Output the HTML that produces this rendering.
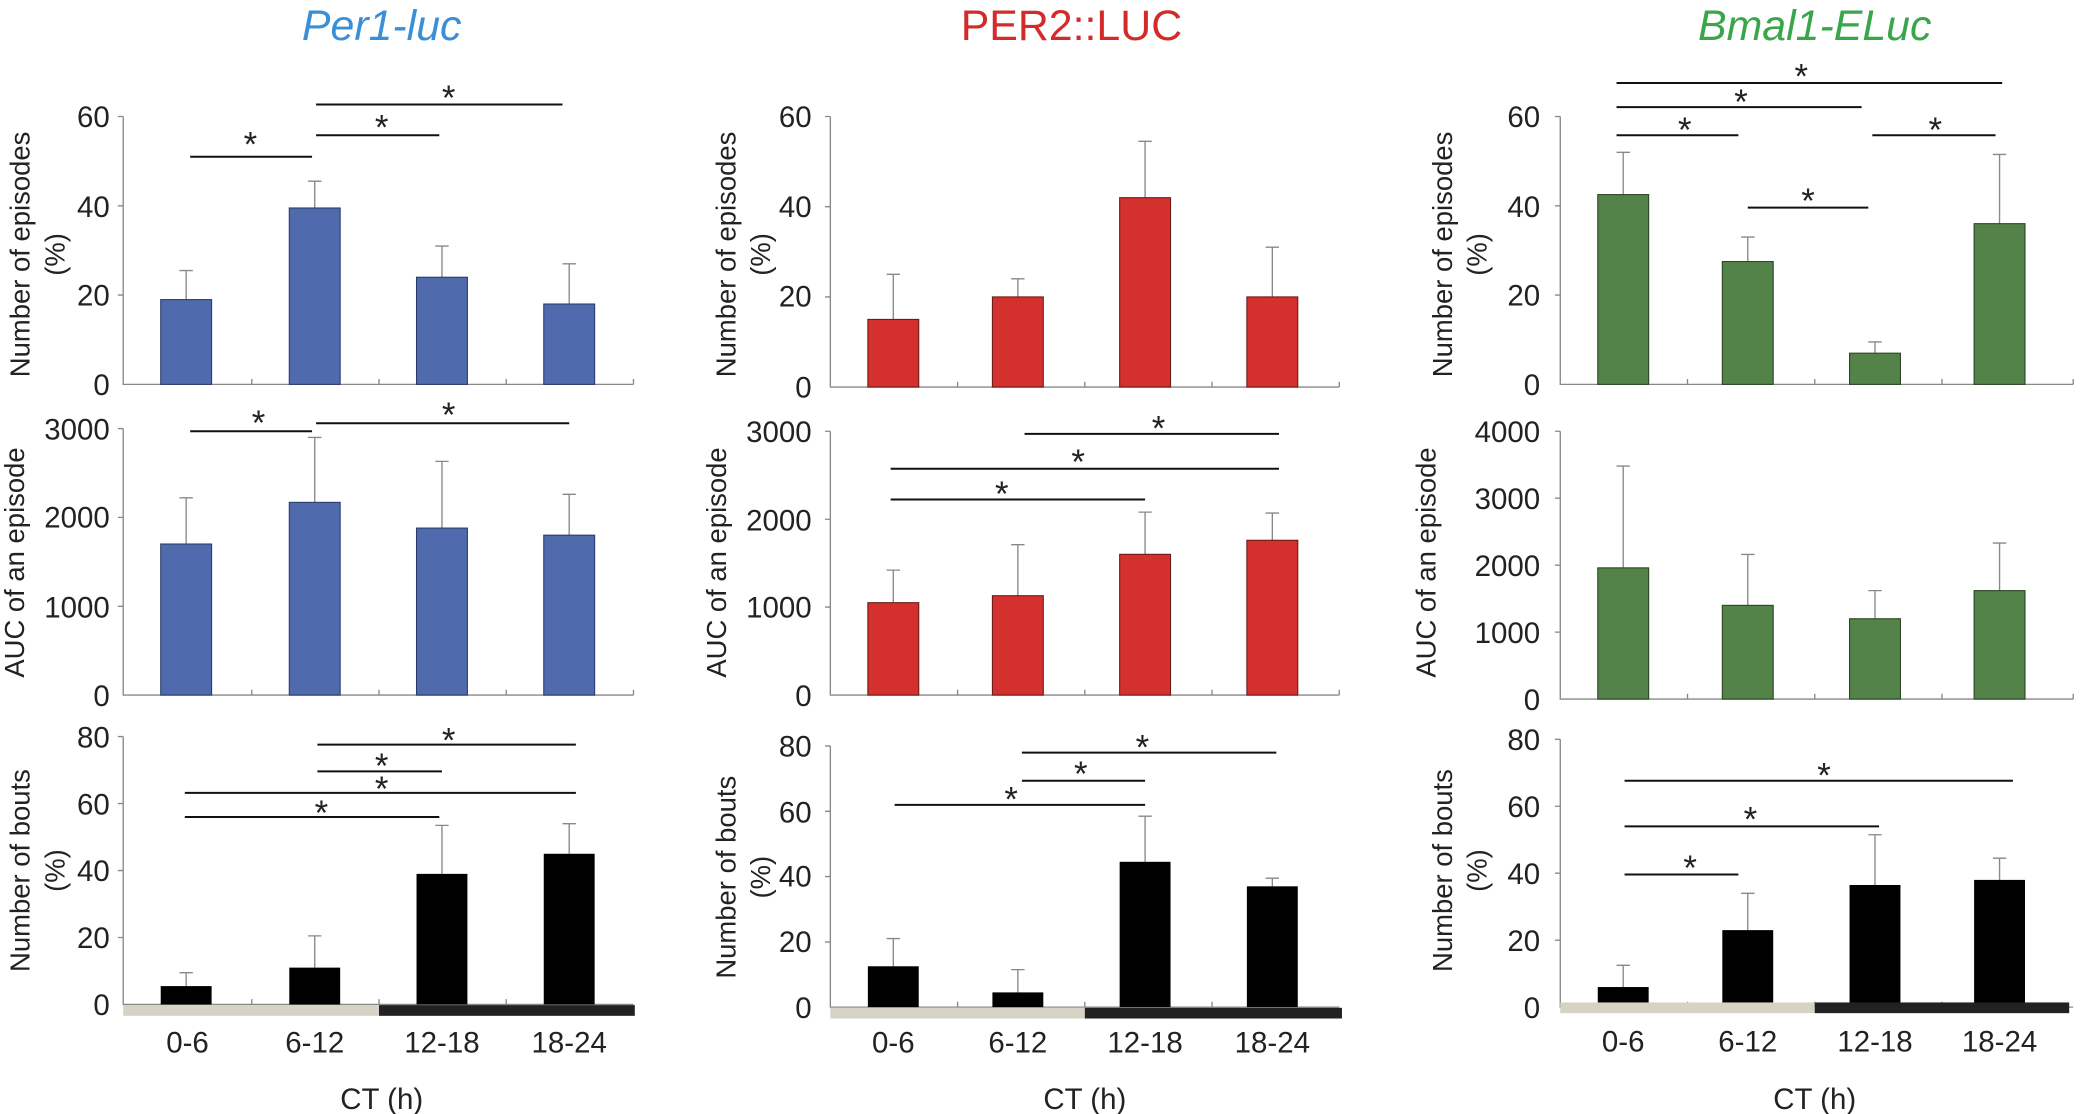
<!DOCTYPE html>
<html><head><meta charset="utf-8"><style>
html,body{margin:0;padding:0;background:#fff}
svg{display:block}
text{font-family:"Liberation Sans",sans-serif;fill:#222}
.t{font-size:22px}
.yl{font-size:20.5px}
.s{font-size:26px}
</style></head><body>
<svg width="2100" height="1114" viewBox="0 0 1568 831.8" preserveAspectRatio="none" xmlns="http://www.w3.org/2000/svg">
<g stroke="#888" stroke-width="1" fill="none">
<path d="M92,87V287H473M188,287v-4M283,287v-4M378,287v-4M473,287v-4M88,87h4M88,153.7h4M88,220.3h4"/>
<path d="M92,320V519H473M188,519v-4M283,519v-4M378,519v-4M473,519v-4M88,320h4M88,386.3h4M88,452.7h4"/>
<path d="M92,550V750H473M188,750v-4M283,750v-4M378,750v-4M88,550h4M88,600h4M88,650h4M88,700h4"/>
<path d="M620,87V289H1000M715,289v-4M810,289v-4M905,289v-4M1000,289v-4M616,87h4M616,154.3h4M616,221.7h4"/>
<path d="M620,322V519H1000M715,519v-4M810,519v-4M905,519v-4M1000,519v-4M616,322h4M616,387.7h4M616,453.3h4"/>
<path d="M620,557V752H1000M715,752v-4M810,752v-4M905,752v-4M616,557h4M616,605.8h4M616,654.5h4M616,703.3h4"/>
<path d="M1165,87V287H1548M1260,287v-4M1355,287v-4M1450,287v-4M1548,287v-4M1161,87h4M1161,153.7h4M1161,220.3h4"/>
<path d="M1165,322V522H1548M1260,522v-4M1355,522v-4M1450,522v-4M1548,522v-4M1161,322h4M1161,372h4M1161,422h4M1161,472h4"/>
<path d="M1165,552V752H1548M1260,752v-4M1355,752v-4M1450,752v-4M1161,552h4M1161,602h4M1161,652h4M1161,702h4"/>
<path d="M139,223.7V202m-5,0h10M235,155.3V135.3m-5,0h10M330,207V183.7m-5,0h10M425,227V197m-5,0h10"/>
<path d="M139,406.2V371.7m-5,0h10M235,375.1V326.6m-5,0h10M330,394.3V344.5m-5,0h10M425,399.6V369.1m-5,0h10"/>
<path d="M139,736.3V726.3m-5,0h10M235,722.5V698.8m-5,0h10M330,652.5V616.3m-5,0h10M425,637.5V615m-5,0h10"/>
<path d="M667,238.5V204.8m-5,0h10M760,221.7V208.2m-5,0h10M855,147.6V105.5m-5,0h10M950,221.7V184.6m-5,0h10"/>
<path d="M667,450V425.7m-5,0h10M760,444.8V406.7m-5,0h10M855,413.9V382.4m-5,0h10M950,403.4V383.1m-5,0h10"/>
<path d="M667,721.5V700.8m-5,0h10M760,741V724m-5,0h10M855,643.5V609.4m-5,0h10M950,661.8V655.7m-5,0h10"/>
<path d="M1212,145.3V113.7m-5,0h10M1305,195.3V177m-5,0h10M1400,263.7V255.3m-5,0h10M1493,167V115.3m-5,0h10"/>
<path d="M1212,424V348m-5,0h10M1305,452V414m-5,0h10M1400,462V441m-5,0h10M1493,441V405.5m-5,0h10"/>
<path d="M1212,737V720.8m-5,0h10M1305,694.5V667m-5,0h10M1400,660.8V623.3m-5,0h10M1493,657V640.8m-5,0h10"/>
</g>
<g fill="#4f6aad" stroke="#2a3b6a" stroke-width="0.8">
<rect x="120" y="223.7" width="38" height="63.3"/><rect x="216" y="155.3" width="38" height="131.7"/><rect x="311" y="207" width="38" height="80"/><rect x="406" y="227" width="38" height="60"/>
<rect x="120" y="406.2" width="38" height="112.8"/><rect x="216" y="375.1" width="38" height="143.9"/><rect x="311" y="394.3" width="38" height="124.7"/><rect x="406" y="399.6" width="38" height="119.4"/>
</g>
<g fill="#d3302e" stroke="#6a1a18" stroke-width="0.8">
<rect x="648" y="238.5" width="38" height="50.5"/><rect x="741" y="221.7" width="38" height="67.3"/><rect x="836" y="147.6" width="38" height="141.4"/><rect x="931" y="221.7" width="38" height="67.3"/>
<rect x="648" y="450" width="38" height="69"/><rect x="741" y="444.8" width="38" height="74.2"/><rect x="836" y="413.9" width="38" height="105.1"/><rect x="931" y="403.4" width="38" height="115.6"/>
</g>
<g fill="#538348" stroke="#2a4424" stroke-width="0.8">
<rect x="1193" y="145.3" width="38" height="141.7"/><rect x="1286" y="195.3" width="38" height="91.7"/><rect x="1381" y="263.7" width="38" height="23.3"/><rect x="1474" y="167" width="38" height="120"/>
<rect x="1193" y="424" width="38" height="98"/><rect x="1286" y="452" width="38" height="70"/><rect x="1381" y="462" width="38" height="60"/><rect x="1474" y="441" width="38" height="81"/>
</g>
<g fill="#000">
<rect x="120" y="736.3" width="38" height="13.7"/><rect x="216" y="722.5" width="38" height="27.5"/><rect x="311" y="652.5" width="38" height="97.5"/><rect x="406" y="637.5" width="38" height="112.5"/>
<rect x="648" y="721.5" width="38" height="30.5"/><rect x="741" y="741" width="38" height="11"/><rect x="836" y="643.5" width="38" height="108.5"/><rect x="931" y="661.8" width="38" height="90.2"/>
<rect x="1193" y="737" width="38" height="15"/><rect x="1286" y="694.5" width="38" height="57.5"/><rect x="1381" y="660.8" width="38" height="91.2"/><rect x="1474" y="657" width="38" height="95"/>
</g>
<rect x="92" y="750.5" width="191" height="8" fill="#d6d3c6"/><rect x="283" y="750.5" width="191" height="8" fill="#222"/>
<rect x="620" y="752.5" width="190" height="8" fill="#d6d3c6"/><rect x="810" y="752.5" width="192" height="8" fill="#222"/>
<rect x="1165" y="748.5" width="190" height="8" fill="#d6d3c6"/><rect x="1355" y="748.5" width="190" height="8" fill="#222"/>
<g stroke="#111" stroke-width="1.5">
<path d="M142,117H233M236,101H328M236,78H420"/>
<path d="M142,322H233M236,316H425"/>
<path d="M237,556H430M237,576H330M138,592H430M138,610H328"/>
<path d="M665,373H855M665,350H955M765,324H955"/>
<path d="M763,562H953M763,583H855M668,601H855"/>
<path d="M1207,62H1495M1207,80H1390M1207,101H1298M1398,101H1490M1305,155H1395"/>
<path d="M1213,653H1298M1213,617H1403M1213,583H1503"/>
</g>
<g class="s" text-anchor="middle">
<text x="187" y="117">*</text><text x="285" y="104">*</text><text x="335" y="82">*</text>
<text x="193" y="325">*</text><text x="335" y="319">*</text>
<text x="335" y="562">*</text><text x="285" y="581">*</text><text x="285" y="598">*</text><text x="240" y="616">*</text>
<text x="748" y="378">*</text><text x="805" y="354">*</text><text x="865" y="329">*</text>
<text x="853" y="567">*</text><text x="807" y="587">*</text><text x="755" y="606">*</text>
<text x="1345" y="66">*</text><text x="1300" y="85">*</text><text x="1258" y="106">*</text><text x="1445" y="106">*</text><text x="1350" y="159">*</text>
<text x="1262" y="657">*</text><text x="1307" y="621">*</text><text x="1362" y="588">*</text>
</g>
<g class="t" text-anchor="end">
<text x="82" y="95">60</text><text x="82" y="162">40</text><text x="82" y="228">20</text><text x="82" y="295">0</text>
<text x="82" y="328">3000</text><text x="82" y="394">2000</text><text x="82" y="461">1000</text><text x="82" y="527">0</text>
<text x="82" y="558">80</text><text x="82" y="608">60</text><text x="82" y="658">40</text><text x="82" y="708">20</text><text x="82" y="758">0</text>
<text x="606" y="95">60</text><text x="606" y="162">40</text><text x="606" y="229">20</text><text x="606" y="297">0</text>
<text x="606" y="330">3000</text><text x="606" y="396">2000</text><text x="606" y="461">1000</text><text x="606" y="527">0</text>
<text x="606" y="565">80</text><text x="606" y="614">60</text><text x="606" y="662">40</text><text x="606" y="711">20</text><text x="606" y="760">0</text>
<text x="1150" y="95">60</text><text x="1150" y="162">40</text><text x="1150" y="228">20</text><text x="1150" y="295">0</text>
<text x="1150" y="330">4000</text><text x="1150" y="380">3000</text><text x="1150" y="430">2000</text><text x="1150" y="480">1000</text><text x="1150" y="530">0</text>
<text x="1150" y="560">80</text><text x="1150" y="610">60</text><text x="1150" y="660">40</text><text x="1150" y="710">20</text><text x="1150" y="760">0</text>
</g>
<g class="t" text-anchor="middle">
<text x="140" y="786">0-6</text><text x="235" y="786">6-12</text><text x="330" y="786">12-18</text><text x="425" y="786">18-24</text>
<text x="667" y="786">0-6</text><text x="760" y="786">6-12</text><text x="855" y="786">12-18</text><text x="950" y="786">18-24</text>
<text x="1212" y="785">0-6</text><text x="1305" y="785">6-12</text><text x="1400" y="785">12-18</text><text x="1493" y="785">18-24</text>
<text x="285" y="828">CT (h)</text><text x="810" y="828">CT (h)</text><text x="1355" y="828">CT (h)</text>
</g>
<g class="yl" text-anchor="middle">
<text transform="translate(22,190) rotate(-90)">Number of episodes</text><text transform="translate(48,190) rotate(-90)">(%)</text>
<text transform="translate(18,420) rotate(-90)">AUC of an episode</text>
<text transform="translate(22,650) rotate(-90)">Number of bouts</text><text transform="translate(48,650) rotate(-90)">(%)</text>
<text transform="translate(549,190) rotate(-90)">Number of episodes</text><text transform="translate(575,190) rotate(-90)">(%)</text>
<text transform="translate(542,420) rotate(-90)">AUC of an episode</text>
<text transform="translate(549,655) rotate(-90)">Number of bouts</text><text transform="translate(575,655) rotate(-90)">(%)</text>
<text transform="translate(1084,190) rotate(-90)">Number of episodes</text><text transform="translate(1110,190) rotate(-90)">(%)</text>
<text transform="translate(1072,420) rotate(-90)">AUC of an episode</text>
<text transform="translate(1084,650) rotate(-90)">Number of bouts</text><text transform="translate(1110,650) rotate(-90)">(%)</text>
</g>
<text x="285" y="30" text-anchor="middle" style="font-size:32px;font-style:italic;fill:#3a8fd6">Per1-luc</text>
<text x="800" y="30" text-anchor="middle" style="font-size:32px;fill:#d42a2a">PER2::LUC</text>
<text x="1355" y="30" text-anchor="middle" style="font-size:32px;font-style:italic;fill:#3aa64a">Bmal1-ELuc</text>
</svg>
</body></html>
